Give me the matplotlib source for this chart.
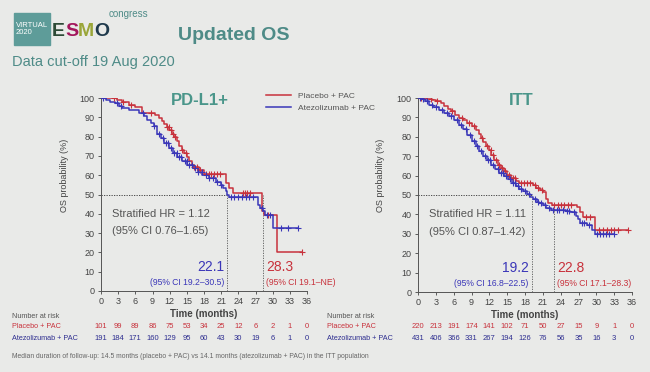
import numpy as np
import matplotlib
matplotlib.use("Agg")
import matplotlib.pyplot as plt
from matplotlib.transforms import blended_transform_factory

plt.rcParams['font.family'] = ['Liberation Sans', 'DejaVu Sans']

# --- datos ---
months = [0, 3, 6, 9, 12, 15, 18, 21, 24, 27, 30, 33, 36]

# PD-L1+ : placebo + PAC (rojo)
pdl1_pbo_t = [0, 2.8, 3.7, 4.9, 6.0, 7.2, 9.5, 10.1, 10.6, 11.0, 11.5, 11.9, 12.4, 12.8, 13.2, 13.6,
              14.1, 14.5, 15.0, 15.4, 15.9, 16.3, 17.2, 18.0, 21.8, 22.4, 23.0, 28.1, 28.4, 30.7, 35.1]
pdl1_pbo_s = [100, 99, 98, 96.5, 95.3, 92.4, 91.2, 89.8, 88, 86.5, 85, 83.3, 81.6, 80, 77.5, 75,
              73.3, 71.5, 69.3, 67.2, 65.5, 64.2, 62.7, 60.5, 56, 53.2, 50.7, 41.2, 39.5, 20, 20]
pdl1_pbo_cens = [2.3, 3.8, 5.2, 8.8, 11.5, 11.8, 12.3, 12.6, 13.0, 14.2, 14.8, 16.3, 16.8, 17.3,
                 18.3, 18.8, 19.3, 19.8, 20.3, 20.8, 24.8, 25.2, 25.6, 26.0, 29.2, 35.1]

# PD-L1+ : atezolizumab + PAC (azul)
pdl1_atz_t = [0, 0.8, 1.6, 2.5, 3.2, 3.7, 4.9, 6.6, 7.5, 8.1, 8.7, 9.3, 9.8, 10.4, 11.0, 11.9, 12.5,
              13.3, 14.2, 15.1, 16.0, 16.9, 17.7, 18.9, 20.1, 21.0, 21.3, 21.8, 22.1, 22.4, 27.4,
              27.7, 28.3, 28.6, 30.0, 34.4]
pdl1_atz_s = [100, 99, 98, 97.2, 96, 94.8, 93.6, 92.2, 90.5, 88.8, 87, 85.3, 81.5, 79.2, 76.6, 74, 71.5,
              69.4, 67.1, 65.4, 63.7, 61.9, 60.2, 58.5, 56.7, 55, 53.3, 51.6, 49.8, 48.5, 44.6,
              42.9, 41.2, 39.4, 32.5, 32.5]
pdl1_atz_cens = [0.3, 2.8, 3.5, 7.3, 9.3, 10.2, 10.8, 11.3, 11.7, 12.3, 12.8, 13.2, 13.6, 14.0, 14.6,
                 15.0, 15.4, 15.9, 16.4, 17.0, 17.6, 18.3, 18.9, 19.6, 20.3, 21.0, 22.8, 23.3, 24.0,
                 24.6, 25.3, 25.8, 26.5, 28.1, 29.0, 29.5, 31.5, 32.6, 34.4]

# ITT : placebo + PAC (rojo)
itt_pbo_t = [0, 1.5, 2.4, 3.0, 3.8, 4.4, 5.0, 5.5, 6.2, 6.9, 7.6, 8.3, 9.0, 9.7, 10.2, 10.6, 11.0,
             11.4, 11.9, 12.3, 12.8, 13.4, 13.9, 14.5, 15.0, 15.6, 16.5, 17.0, 19.3, 19.9, 20.5,
             21.0, 21.5, 21.8, 22.5, 26.7, 27.2, 27.8, 29.8, 35.3]
itt_pbo_s = [100, 99.5, 99, 98.2, 97.4, 96, 94.5, 93.1, 91.4, 89.7, 88.5, 87.1, 85.4, 83.7, 81.5, 79.4,
             77.2, 75.1, 73, 70.8, 68.2, 65.7, 64, 62.3, 60.5, 58.8, 57.1, 56.3, 55, 53.7, 52.8,
             51.5, 47.7, 46, 45, 44, 41.2, 38.8, 32, 32]
itt_pbo_cens = [0.5, 2.2, 3.2, 5.8, 7.4, 8.6, 9.4, 10.8, 11.6, 12.2, 12.6, 13.2, 13.7, 14.2, 14.7,
                15.3, 15.9, 16.4, 17.3, 17.8, 18.3, 18.8, 19.6, 20.2, 20.8, 22.9, 23.5, 24.1, 24.6,
                25.2, 25.8, 28.3, 28.9, 30.4, 31.2, 31.8, 32.4, 33.0, 33.7, 35.3]

# ITT : atezolizumab + PAC (azul)
itt_atz_t = [0, 0.7, 1.2, 1.9, 2.6, 3.5, 4.3, 5.2, 6.0, 6.9, 7.6, 8.3, 9.0, 9.7, 10.3, 10.9, 11.6,
             12.3, 13.0, 13.7, 14.4, 15.1, 15.8, 16.5, 17.0, 17.6, 18.4, 18.9, 19.3, 20.0, 20.4,
             21.0, 21.5, 22.3, 24.9, 25.6, 26.6, 26.9, 27.3, 28.4, 29.2, 29.8, 33.0]
itt_atz_s = [100, 99.3, 98.3, 96.6, 95.5, 94, 92.5, 90.6, 88.5, 86.3, 83.8, 81.1, 78, 75.1, 72.5, 70,
             67.8, 65.7, 63.5, 61.4, 59.7, 58, 56.3, 54.6, 53.3, 52, 50.3, 49.1, 47.7, 46.5, 46,
             44.8, 43.4, 42.5, 41.7, 41, 39.1, 37.5, 35.4, 34.5, 32, 29.8, 29.8]
itt_atz_cens = [0.3, 0.9, 1.5, 2.3, 3.0, 4.0, 4.8, 5.6, 6.5, 7.3, 8.0, 8.7, 9.4, 10.0, 10.6, 11.2,
                11.8, 12.1, 12.6, 13.4, 13.9, 14.3, 14.8, 15.4, 15.9, 16.3, 16.9, 17.4, 18.0, 18.6,
                19.6, 20.2, 20.7, 21.3, 22.0, 22.7, 23.3, 23.8, 24.4, 25.0, 25.4, 26.2, 27.6, 28.0,
                28.8, 30.1, 30.6, 31.1, 31.7, 32.2, 32.9]

# números en riesgo
pdl1_risk_pbo = [101, 99, 89, 86, 75, 53, 34, 25, 12, 6, 2, 1, 0]
pdl1_risk_atz = [191, 184, 171, 160, 129, 95, 60, 43, 30, 19, 6, 1, 0]
itt_risk_pbo = [220, 213, 191, 174, 141, 102, 71, 50, 27, 15, 9, 1, 0]
itt_risk_atz = [431, 406, 366, 331, 267, 194, 126, 76, 56, 35, 16, 3, 0]

# medianas (atezo, placebo)
pdl1_med = (22.1, 28.3)
itt_med = (19.2, 22.8)

RED = '#c8323c'
BLUE = '#3a36b8'
NAVY = '#2e2e90'
TEAL = '#4e8b87'
GRAY = '#444444'
BG = '#e9eae8'


def surv_at(t_steps, s_steps, t):
    # valor de la curva escalonada en t
    idx = np.searchsorted(t_steps, t, side='right') - 1
    return np.array(s_steps)[idx]


def km_panel(ax, pbo, atz, title, hr_txt, med, med_ci, top_atz, top_pbo):
    for (t, s, c), col in zip([pbo, atz], [RED, BLUE]):
        ax.step(t, s, where='post', color=col, lw=1.1, zorder=3)
        ax.plot(c, surv_at(t, s, c), '+', color=col, ms=5, mew=0.8, zorder=4)
    ax.set_xlim(0, 36)
    ax.set_ylim(0, 100)
    ax.set_xticks(months)
    ax.set_yticks(range(0, 101, 10))
    ax.tick_params(labelsize=6.5, colors=GRAY, length=2.5, width=0.6, pad=2)
    for sp in ['top', 'right']:
        ax.spines[sp].set_visible(False)
    for sp in ['left', 'bottom']:
        ax.spines[sp].set_color('#555555')
        ax.spines[sp].set_linewidth(0.7)
    ax.set_facecolor(BG)
    ax.set_ylabel('OS probability (%)', fontsize=6.5, color=GRAY, labelpad=5)
    ax.yaxis.set_label_coords(-0.155, 0.6)
    ax.set_xlabel('Time (months)', fontsize=7, color=GRAY, fontweight='bold', labelpad=2)
    ax.text(0.48, 0.985, title, transform=ax.transAxes, fontsize=12, color='#4a968a',
            fontweight='bold', ha='center', va='center')

    m_atz, m_pbo = med
    ax.plot([0, min(m_atz, m_pbo)], [50, 50], ls=(0, (1.5, 1.5)), color='#333333', lw=0.6, zorder=2)
    ax.plot([m_atz, m_atz], [0, top_atz], ls=(0, (1.5, 1.5)), color='#555555', lw=0.6, zorder=2)
    ax.plot([m_pbo, m_pbo], [0, top_pbo], ls=(0, (1.5, 1.5)), color='#555555', lw=0.6, zorder=2)

    ax.text(1.9, 40, hr_txt[0], fontsize=8, color='#555555', va='center')
    ax.text(1.9, 31, hr_txt[1], fontsize=8, color='#555555', va='center')

    ax.text(m_atz - 0.6, 12.5, f'{m_atz}', fontsize=10, color=BLUE, ha='right', va='center')
    ax.text(m_atz - 0.6, 4.5, med_ci[0], fontsize=6.2, color=BLUE, ha='right', va='center')
    ax.text(m_pbo + 0.6, 12.5, f'{m_pbo}', fontsize=10, color=RED, ha='left', va='center')
    ax.text(m_pbo + 0.6, 4.5, med_ci[1], fontsize=6.2, color=RED, ha='left', va='center')


def risk_table(fig, ax, x_lab, pbo, atz):
    tr = blended_transform_factory(ax.transData, fig.transFigure)
    fig.text(x_lab, 1 - 316 / 372, 'Number at risk', fontsize=5.2, color='#555555', va='center')
    fig.text(x_lab, 1 - 327 / 372, 'Placebo + PAC', fontsize=5.2, color=RED, va='center')
    fig.text(x_lab, 1 - 338.5 / 372, 'Atezolizumab + PAC', fontsize=5.2, color=NAVY, va='center')
    for m, a, b in zip(months, pbo, atz):
        ax.text(m, 1 - 327 / 372, str(a), transform=tr, fontsize=5.5, color=RED, ha='center', va='center')
        ax.text(m, 1 - 338.5 / 372, str(b), transform=tr, fontsize=5.5, color=NAVY, ha='center', va='center')


fig = plt.figure(figsize=(6.5, 3.72), dpi=100, facecolor=BG)

ax1 = fig.add_axes([101 / 650, 1 - 291 / 372, 206 / 650, 193 / 372])
ax2 = fig.add_axes([418 / 650, 1 - 292 / 372, 214 / 650, 194 / 372])

km_panel(ax1, (pdl1_pbo_t, pdl1_pbo_s, pdl1_pbo_cens), (pdl1_atz_t, pdl1_atz_s, pdl1_atz_cens),
         'PD-L1+', ('Stratified HR = 1.12', '(95% CI 0.76\u20131.65)'), pdl1_med,
         ('(95% CI 19.2\u201330.5)', '(95% CI 19.1\u2013NE)'), 50, 50)
km_panel(ax2, (itt_pbo_t, itt_pbo_s, itt_pbo_cens), (itt_atz_t, itt_atz_s, itt_atz_cens),
         'ITT', ('Stratified HR = 1.11', '(95% CI 0.87\u20131.42)'), itt_med,
         ('(95% CI 16.8\u201322.5)', '(95% CI 17.1\u201328.3)'), 48, 44)

# leyenda
ax1.plot([], [], color=RED, lw=1.1, label='Placebo + PAC')
ax1.plot([], [], color=BLUE, lw=1.1, label='Atezolizumab + PAC')
fig.legend(handles=ax1.lines[-2:], loc='upper left', bbox_to_anchor=(262 / 650, 1 - 88 / 372),
           frameon=False, fontsize=6, labelcolor='#555555', handlelength=3.0,
           handletextpad=0.8, labelspacing=0.45, borderpad=0)

risk_table(fig, ax1, 12 / 650, pdl1_risk_pbo, pdl1_risk_atz)
risk_table(fig, ax2, 327 / 650, itt_risk_pbo, itt_risk_atz)

fig.text(12 / 650, 1 - 357 / 372,
         'Median duration of follow-up: 14.5 months (placebo + PAC) vs 14.1 months '
         '(atezolizumab + PAC) in the ITT population', fontsize=4.9, color='#666666', va='center')

# cabecera
fig.text(178 / 650, 1 - 35 / 372, 'Updated OS', fontsize=14, color=TEAL, fontweight='bold', va='center')
fig.text(12 / 650, 1 - 62 / 372, 'Data cut-off 19 Aug 2020', fontsize=10.5, color=TEAL, va='center')

fig.patches.append(plt.Rectangle((14 / 650, 1 - 45 / 372), 36 / 650, 32 / 372,
                                 transform=fig.transFigure, color='#5e9c99', zorder=0))
fig.text(16 / 650, 1 - 29 / 372, 'VIRTUAL\n2020', fontsize=5.5, color='white', va='center', linespacing=0.9)
for x, ch, col in zip([52, 65, 78, 94.5], 'ESMO', ['#2d4a36', '#a3175c', '#9aa638', '#1f3a4c']):
    fig.text(x / 650, 1 - 31 / 372, ch, fontsize=14, color=col, fontweight='bold', va='center')
fig.text(109 / 650, 1 - 14 / 372, 'congress', fontsize=7, color=TEAL, va='center')

fig.savefig('out.png', dpi=100, facecolor=BG)
